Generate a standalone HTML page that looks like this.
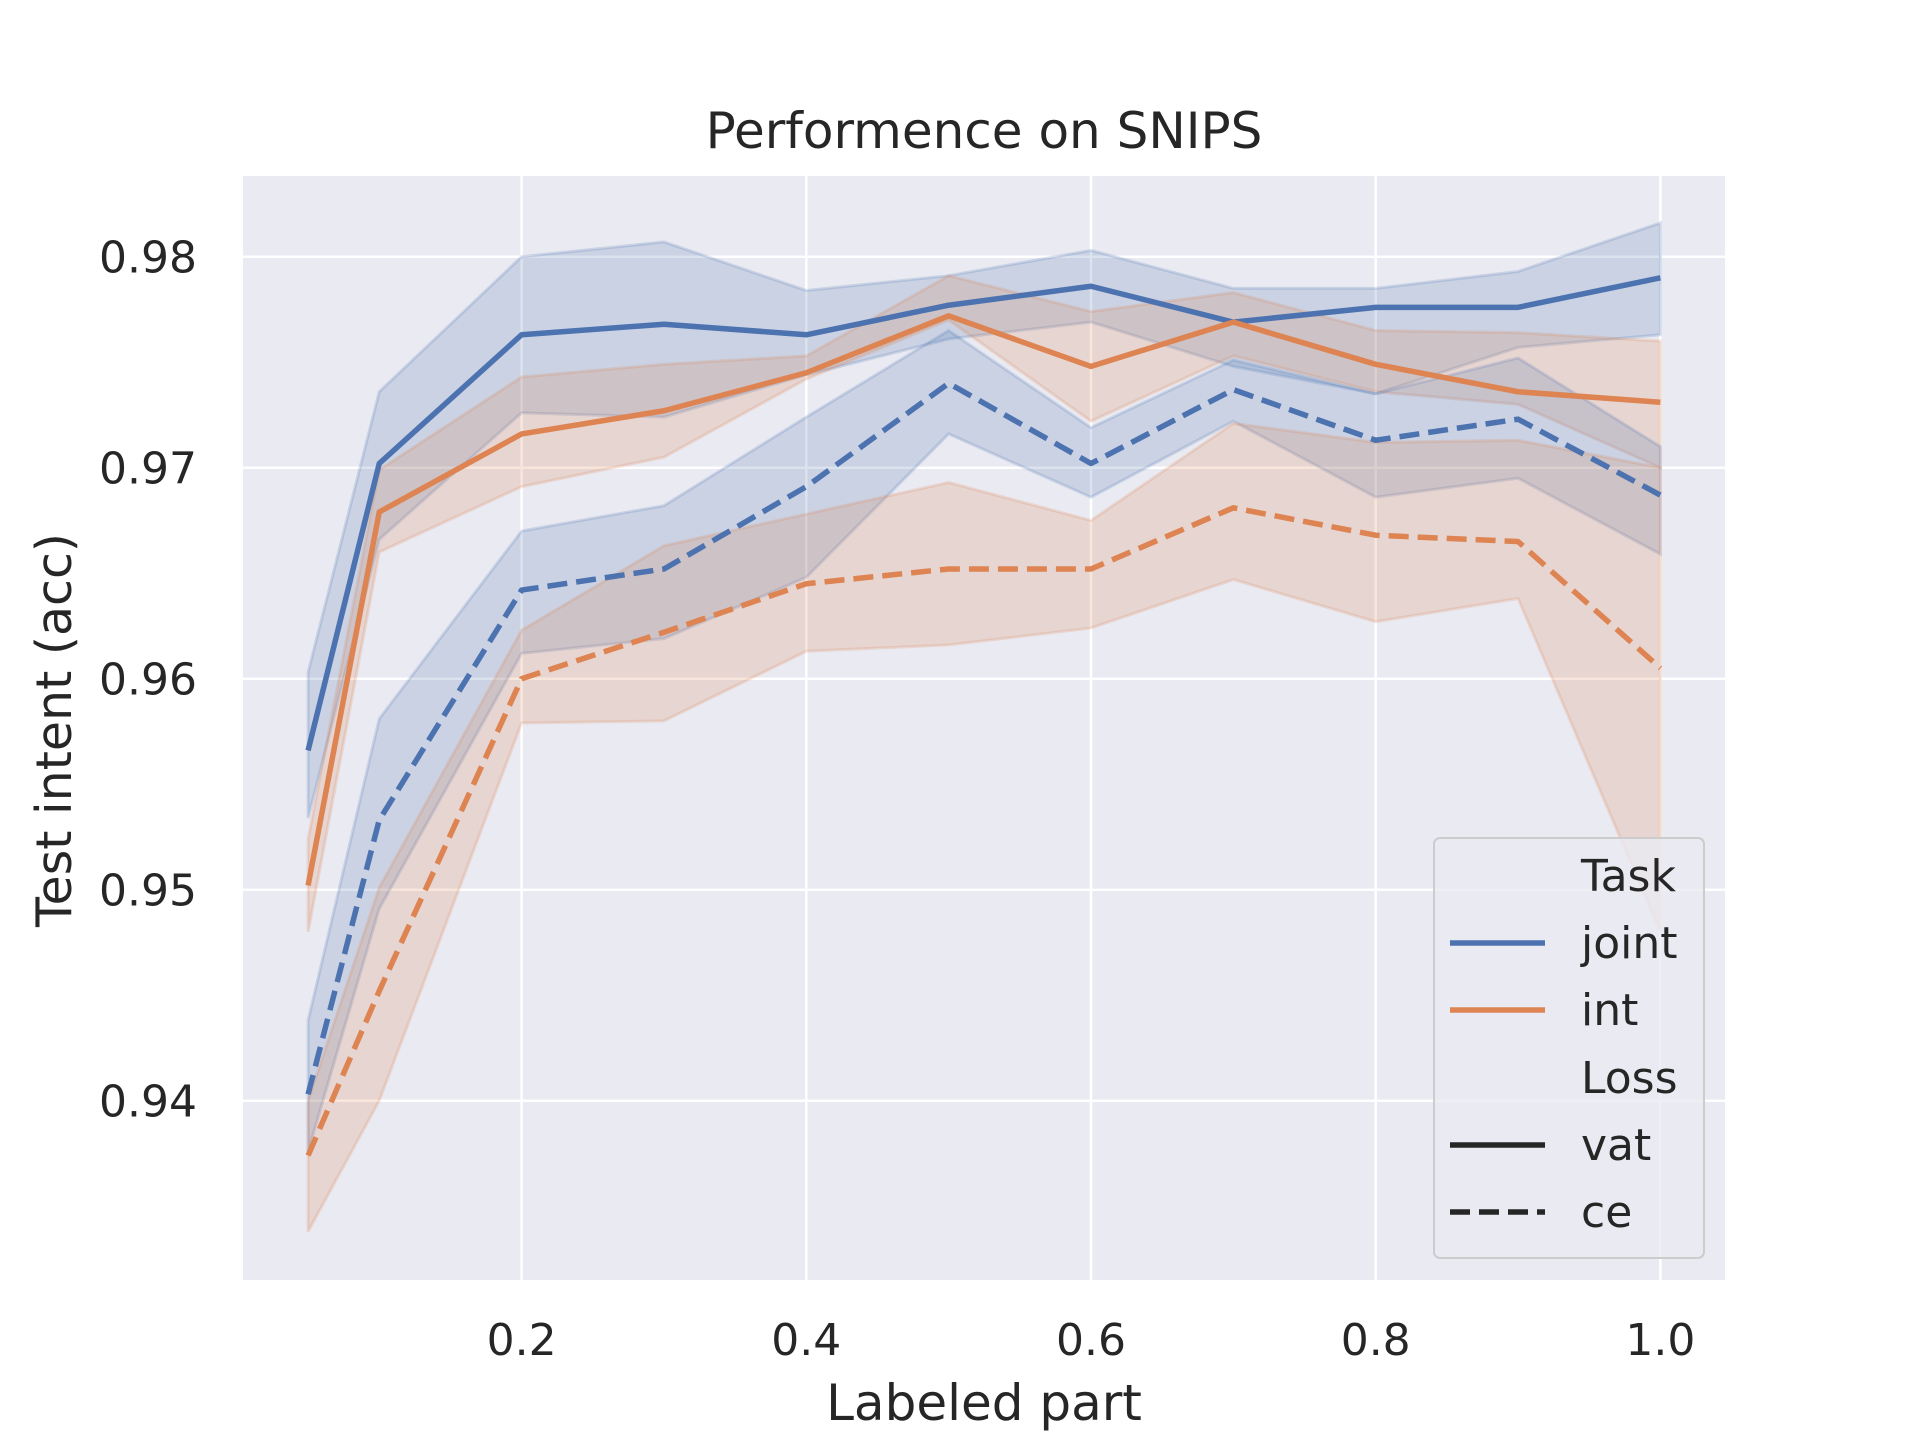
<!DOCTYPE html>
<html><head><meta charset="utf-8"><style>
html,body{margin:0;padding:0;background:#fff;}
svg{display:block;font-family:"DejaVu Sans","Liberation Sans",sans-serif;}
</style></head><body>
<svg id="chart" width="1920" height="1440" viewBox="0 0 1920 1440">
<rect x="243" y="176" width="1482" height="1104" fill="#eaeaf2"/>
<g id="grid"></g><g id="bands"></g><g id="lines"></g><g id="ticks"></g>
<text x="984" y="148" font-size="50" text-anchor="middle" fill="#262626">Performence on SNIPS</text>
<text x="984" y="1420" font-size="50" text-anchor="middle" fill="#262626">Labeled part</text>
<text x="0" y="0" font-size="49" text-anchor="middle" fill="#262626" transform="translate(71,730) rotate(-90)">Test intent (acc)</text>
<g>
<rect x="1434" y="838" width="270" height="420" rx="6" fill="#eaeaf2" fill-opacity="0.8" stroke="#cccccc" stroke-width="2"/>
<text x="1581" y="891" font-size="44" fill="#262626">Task</text>
<line x1="1450" y1="943" x2="1545" y2="943" stroke="#4c72b0" stroke-width="5.5"/>
<text x="1581" y="958" font-size="44" fill="#262626">joint</text>
<line x1="1450" y1="1010" x2="1545" y2="1010" stroke="#dd8452" stroke-width="5.5"/>
<text x="1581" y="1025" font-size="44" fill="#262626">int</text>
<text x="1581" y="1093" font-size="44" fill="#262626">Loss</text>
<line x1="1450" y1="1145" x2="1545" y2="1145" stroke="#262626" stroke-width="5.5"/>
<text x="1581" y="1160" font-size="44" fill="#262626">vat</text>
<line x1="1450" y1="1212" x2="1545" y2="1212" stroke="#262626" stroke-width="5.5" stroke-dasharray="20,9"/>
<text x="1581" y="1227" font-size="44" fill="#262626">ce</text>
</g>
</svg>
<script>
const xs=[0.05,0.1,0.2,0.3,0.4,0.5,0.6,0.7,0.8,0.9,1.0];
const xTicks=[0.2,0.4,0.6,0.8,1.0];
const xTickLabels=["0.2","0.4","0.6","0.8","1.0"];
const yTicks=[0.94,0.95,0.96,0.97,0.98];
const yTickLabels=["0.94","0.95","0.96","0.97","0.98"];
const jointVatMean=[0.9566,0.9702,0.9763,0.9768,0.9763,0.9777,0.9786,0.9769,0.9776,0.9776,0.9790];
const jointVatHi=[0.9603,0.9736,0.9800,0.9807,0.9784,0.9791,0.9803,0.9785,0.9785,0.9793,0.9816];
const jointVatLo=[0.9534,0.9666,0.9726,0.9724,0.9744,0.9761,0.9769,0.9748,0.9735,0.9757,0.9763];
const intVatMean=[0.9502,0.9679,0.9716,0.9727,0.9745,0.9772,0.9748,0.9769,0.9749,0.9736,0.9731];
const intVatHi=[0.9524,0.9699,0.9743,0.9749,0.9753,0.9791,0.9774,0.9783,0.9765,0.9764,0.9760];
const intVatLo=[0.9480,0.9660,0.9691,0.9705,0.9742,0.9770,0.9722,0.9753,0.9736,0.9730,0.9700];
const jointCeMean=[0.9403,0.9533,0.9642,0.9652,0.9691,0.9740,0.9702,0.9737,0.9713,0.9723,0.9687];
const jointCeHi=[0.9438,0.9581,0.9670,0.9682,0.9724,0.9765,0.9719,0.9751,0.9735,0.9752,0.9710];
const jointCeLo=[0.9376,0.9491,0.9612,0.9619,0.9648,0.9716,0.9686,0.9722,0.9686,0.9695,0.9659];
const intCeMean=[0.9374,0.9452,0.9600,0.9622,0.9645,0.9652,0.9652,0.9681,0.9668,0.9665,0.9605];
const intCeHi=[0.9400,0.9501,0.9623,0.9663,0.9678,0.9693,0.9675,0.9721,0.9712,0.9713,0.9700];
const intCeLo=[0.9338,0.9400,0.9579,0.9580,0.9613,0.9616,0.9624,0.9647,0.9627,0.9638,0.9480];

const NS="http://www.w3.org/2000/svg";
function X(v){return 521.6+(v-0.2)*1423.5;}
function Y(v){return 256.7+(0.98-v)*21100;}
function mk(tag,attrs,parent){const e=document.createElementNS(NS,tag);for(const k in attrs)e.setAttribute(k,attrs[k]);document.getElementById(parent).appendChild(e);return e;}
xTicks.forEach((t,i)=>{
  const l=mk('line',{x1:X(t),x2:X(t),y1:176,y2:1280,stroke:'#fff','stroke-width':2.5},'grid');
  
  
  const tx=mk('text',{x:X(t),y:1355,'font-size':44,'text-anchor':'middle',fill:'#262626'},'ticks');
  tx.textContent=xTickLabels[i];
  
  
});
yTicks.forEach((t,i)=>{
  const l=mk('line',{x1:243,x2:1725,y1:Y(t),y2:Y(t),stroke:'#fff','stroke-width':2.5},'grid');
  
  
  const tx=mk('text',{x:197,y:Y(t)+16,'font-size':44,'text-anchor':'end',fill:'#262626'},'ticks');
  tx.textContent=yTickLabels[i];
  
  
});
function band(hi,lo,color,name){
  let d='M'+xs.map((x,i)=>X(x)+','+Y(hi[i])).join(' L');
  d+=' L'+xs.slice().reverse().map((x,j)=>{const i=xs.length-1-j;return X(x)+','+Y(lo[i]);}).join(' L')+' Z';
  const p=mk('path',{d:d,fill:color,'fill-opacity':0.2,stroke:color,'stroke-opacity':0.2,'stroke-width':3},'bands');
  
  
}
function line(m,color,dash,name){
  const p=mk('polyline',{points:xs.map((x,i)=>X(x)+','+Y(m[i])).join(' '),fill:'none',stroke:color,'stroke-width':5.5,'stroke-linejoin':'round'},'lines');
  if(dash)p.setAttribute('stroke-dasharray','20,9');
  
  
}
band(jointVatHi,jointVatLo,'#4c72b0','joint-vat-band');
band(intVatHi,intVatLo,'#dd8452','int-vat-band');
band(jointCeHi,jointCeLo,'#4c72b0','joint-ce-band');
band(intCeHi,intCeLo,'#dd8452','int-ce-band');
line(jointVatMean,'#4c72b0',false,'joint-vat-line');
line(intVatMean,'#dd8452',false,'int-vat-line');
line(jointCeMean,'#4c72b0',true,'joint-ce-line');
line(intCeMean,'#dd8452',true,'int-ce-line');
</script>
</body></html>
